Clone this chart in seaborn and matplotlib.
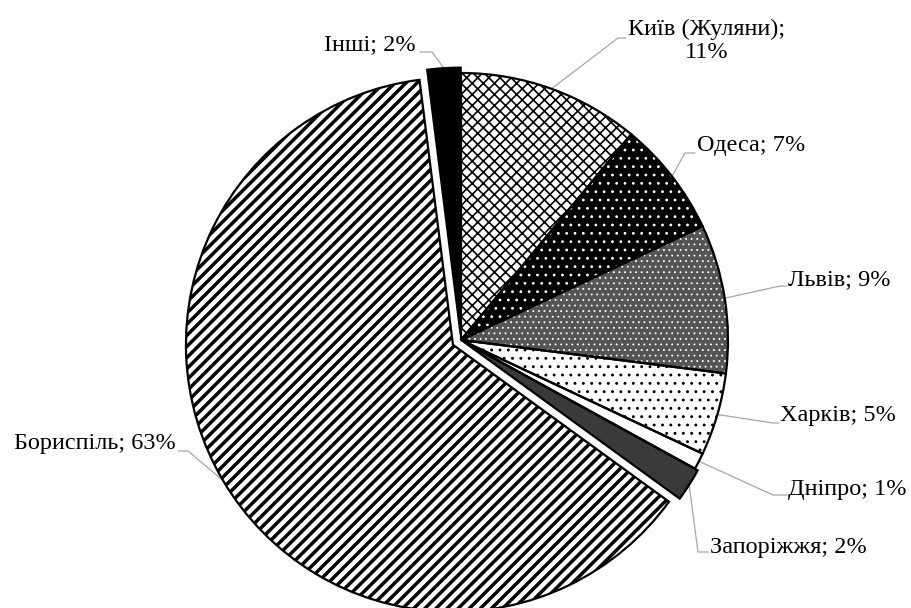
import numpy as np
import matplotlib
matplotlib.use("Agg")
import matplotlib.pyplot as plt
import seaborn as sns

# airports and their share, clockwise from the top
airports = ["Київ (Жуляни)", "Одеса", "Львів", "Харків", "Дніпро", "Запоріжжя", "Бориспіль", "Інші"]
shares = [11, 7, 9, 5, 1, 2, 63, 2]
label_texts = ["Київ (Жуляни);\n11%", "Одеса; 7%", "Львів; 9%", "Харків; 5%",
               "Дніпро; 1%", "Запоріжжя; 2%", "Бориспіль; 63%", "Інші; 2%"]

# styles for each slice: face, hatch, hatch colour, hatch width
faces = ["white", "black", "#555555", "white", "white", "#3a3a3a", "white", "black"]
hatches = ["xxx", "..", "...", "..", None, None, "///", None]
hatch_cols = ["black", "white", "white", "black", "black", "black", "black", "black"]
hatch_lws = [1.2, 0.8, 0.6, 0.9, 1.0, 1.0, 2.5, 1.0]
explode = [0, 0, 0, 0, 0, 0.012, 0.035, 0.02]

sns.set_theme(style="white")
plt.rcParams['font.family'] = ['Liberation Serif', 'DejaVu Serif']

W, H = 911, 608
fig = plt.figure(figsize=(W / 100, H / 100), dpi=100)
ax = fig.add_axes([0, 0, 1, 1])

cx, cy, R = 461, H - 340, 267
expl = [e * R for e in explode]

# fills and hatches
wedges, _ = ax.pie(shares, startangle=90, counterclock=False, explode=expl,
                   radius=R, center=(cx, cy))
for w, fc, h, hc, hl in zip(wedges, faces, hatches, hatch_cols, hatch_lws):
    w.set_facecolor(fc)
    w.set_edgecolor(hc)
    w.set_linewidth(0)
    if h:
        w.set_hatch(h)
        if hasattr(w, "set_hatch_linewidth"):
            w.set_hatch_linewidth(hl)

# outlines
outl, _ = ax.pie(shares, startangle=90, counterclock=False, explode=expl,
                 radius=R, center=(cx, cy),
                 wedgeprops=dict(facecolor="none", edgecolor="black", linewidth=1.6))

# label layout (pixel coords from the top-left)
text_pos = [(707, 41), (697, 146), (788, 280), (780, 415), (788, 490), (710, 548), (176, 443), (416, 45)]
text_ha = ["center", "left", "left", "left", "left", "left", "right", "right"]
elbows = [(618, 38), (685, 153), (780, 286), (773, 423), (773, 495), (698, 552), (188, 451), (432, 52)]
ends = [(626, 38), (695, 153), (787, 286), (779, 423), (787, 495), (708, 552), (178, 451), (420, 52)]

for w, txt, (tx, ty), ha, (ex, ey), (nx, ny) in zip(outl, label_texts, text_pos, text_ha, elbows, ends):
    mid = np.deg2rad((w.theta1 + w.theta2) / 2)
    x0 = w.center[0] + w.r * np.cos(mid)
    y0 = w.center[1] + w.r * np.sin(mid)
    ax.plot([x0, ex, nx], [y0, H - ey, H - ny], color="#a6a6a6", lw=0.9, zorder=0)
    ax.text(tx, H - ty, txt, ha=ha, va="center", fontsize=17.5, linespacing=1.15,
            color="black")

ax.set_xlim(0, W)
ax.set_ylim(0, H)
ax.set_aspect("equal")
ax.axis("off")

fig.savefig("out.png", dpi=100)
